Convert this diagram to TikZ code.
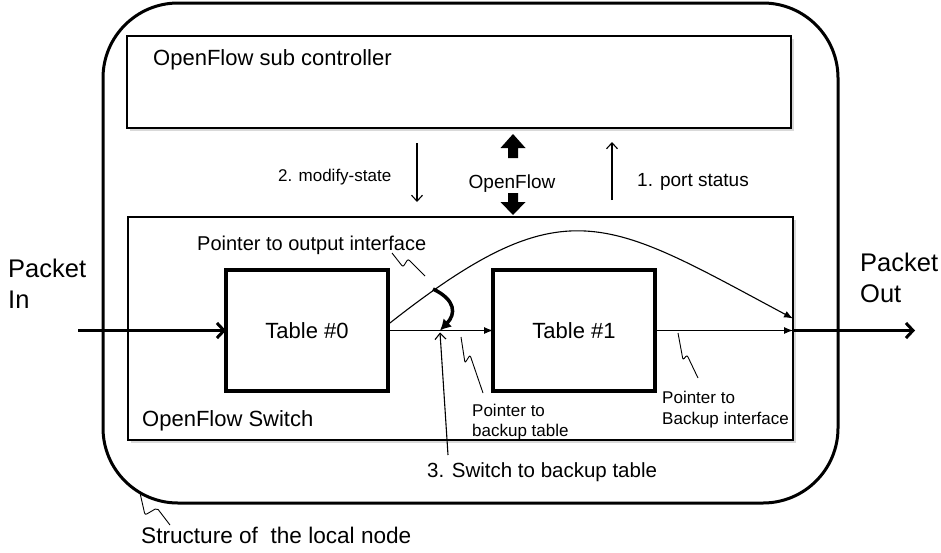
\documentclass[tikz,border=0pt]{standalone}
\usepackage{fontspec}
\setmainfont{Liberation Sans}
\usetikzlibrary{arrows.meta,shadows,calc}
\begin{document}
\begin{tikzpicture}[x=1pt,y=-1pt,
  outerbox/.style={draw, line width=3pt, rounded corners=75pt, minimum width=735pt,
    minimum height=500pt, inner sep=0pt, outer sep=0pt},
  panel/.style={draw, line width=1.3pt, fill=white, inner sep=0pt, outer sep=0pt,
    drop shadow={shadow xshift=2.5pt, shadow yshift=-2.5pt, opacity=0.3}},
  tablebox/.style={draw, line width=3.2pt, fill=white, minimum width=162pt,
    minimum height=121pt, inner sep=0pt, outer sep=0pt, font=\fontsize{22}{26}\selectfont},
  thinline/.style={line width=1.1pt},
  vtip/.style={-{Straight Barb[length=6pt,width=11pt]}},
  ftip/.style={-{Latex[length=9pt,width=7pt]}},
  packet/.style={line width=3pt, -{Straight Barb[length=7pt,width=15pt]}},
  squiggle/.style={line width=0.9pt, rounded corners=2pt},
  txt/.style={anchor=base west, inner sep=0pt, font=\fontsize{#1}{#1}\selectfont},
  blockarrow/.style={fill=black}]
\useasboundingbox (0,0) rectangle (941,552);

% enclosing local node
\node[outerbox] (local) at (470.5,253) {};

% controller and switch panels
\node[panel, minimum width=664pt, minimum height=92pt] (sub) at (459,82) {};
\node[panel, minimum width=665pt, minimum height=223pt] (sw) at (460.5,328.5) {};

% flow tables
\node[tablebox] (t0) at (307,330.5) {Table \#0};
\node[tablebox] (t1) at (574,330.5) {Table \#1};

% texts
\node[txt=22] (subtxt) at (153,65) {OpenFlow sub controller};
\node[txt=22] (swtxt) at (142,426) {OpenFlow Switch};
\node[txt=17] (modtxt) at (278,181) {2. modify-state};
\node[txt=19] [anchor=base] (oftxt) at (512,188) {OpenFlow};
\node[txt=19] (porttxt) at (637,186) {1. port status};
\node[txt=20] (outiftxt) at (197,250) {Pointer to output interface};
\node[txt=17] (bt1) at (472,416) {Pointer to};
\node[txt=17] (bt2) at (472,436) {backup table};
\node[txt=17] (bi1) at (662,403) {Pointer to};
\node[txt=17] (bi2) at (662,424) {Backup interface};
\node[txt=20.5] (switchtxt) at (427,477) {3. Switch to backup table};
\node[txt=22.6] (structtxt) at (141,543) {Structure of~~the local node};
\node[txt=25.5] (pin1) at (8,277) {Packet};
\node[txt=25.5] (pin2) at (8,308) {In};
\node[txt=25.5] (pout1) at (860,271) {Packet};
\node[txt=25.5] (pout2) at (860,302) {Out};

% control channel arrows
\coordinate (modtop) at (417,143);
\coordinate (modbot) at (417,202);
\coordinate (porttop) at (612,142);
\coordinate (portbot) at (612,200);
\draw[thinline, vtip] (modtop) -- (modbot);
\draw[thinline, vtip] (portbot) -- (porttop);

% OpenFlow block arrows
\fill[blockarrow] (508,158) -- (508,148) -- (500.5,148) -- (513,134) -- (525.5,148)
  -- (518,148) -- (518,158) -- cycle;
\fill[blockarrow] (508,193) -- (518,193) -- (518,202) -- (525.5,202) -- (513,215)
  -- (500.5,202) -- (508,202) -- cycle;

% packet path
\coordinate (pinstart) at (78,330.5);
\coordinate (swout) at (sw.east |- t1.east);
\coordinate (poutend) at (915,330.5);
\draw[packet] (pinstart) -- (t0.west);
\draw[packet] (swout) -- (poutend);
\draw[thinline, ftip] (t0.east) -- (t1.west);
\draw[thinline, ftip] (t1.east) -- (swout);
\draw[thinline, ftip] ($(t0.east)+(0,-6)$) .. controls (565,185) and (605,218) .. ($(swout)+(0,-12)$);

% switch-over pointer
\coordinate (jn) at (440,330.5);
\coordinate (pstart) at (433,289);
\draw[line width=3.5pt, -{Latex[length=11pt,width=12pt]}] (pstart) .. controls (456,300) and (456,314) .. (jn);
\coordinate (swbot) at (448,455);
\draw[thinline, vtip] (swbot) -- ($(jn)+(0,2)$);

% callout squiggles
\draw[squiggle] (392,253) -- (403,267) -- (408,259) -- (425,276);
\draw[squiggle] (461,337) -- (465,363) -- (470,355) -- (483,393);
\draw[squiggle] (678,333) -- (683,360) -- (687,355) -- (698,378);
\draw[squiggle] (140,493) -- (145,515) -- (157,508) -- (170,525);
\end{tikzpicture}
\end{document}
